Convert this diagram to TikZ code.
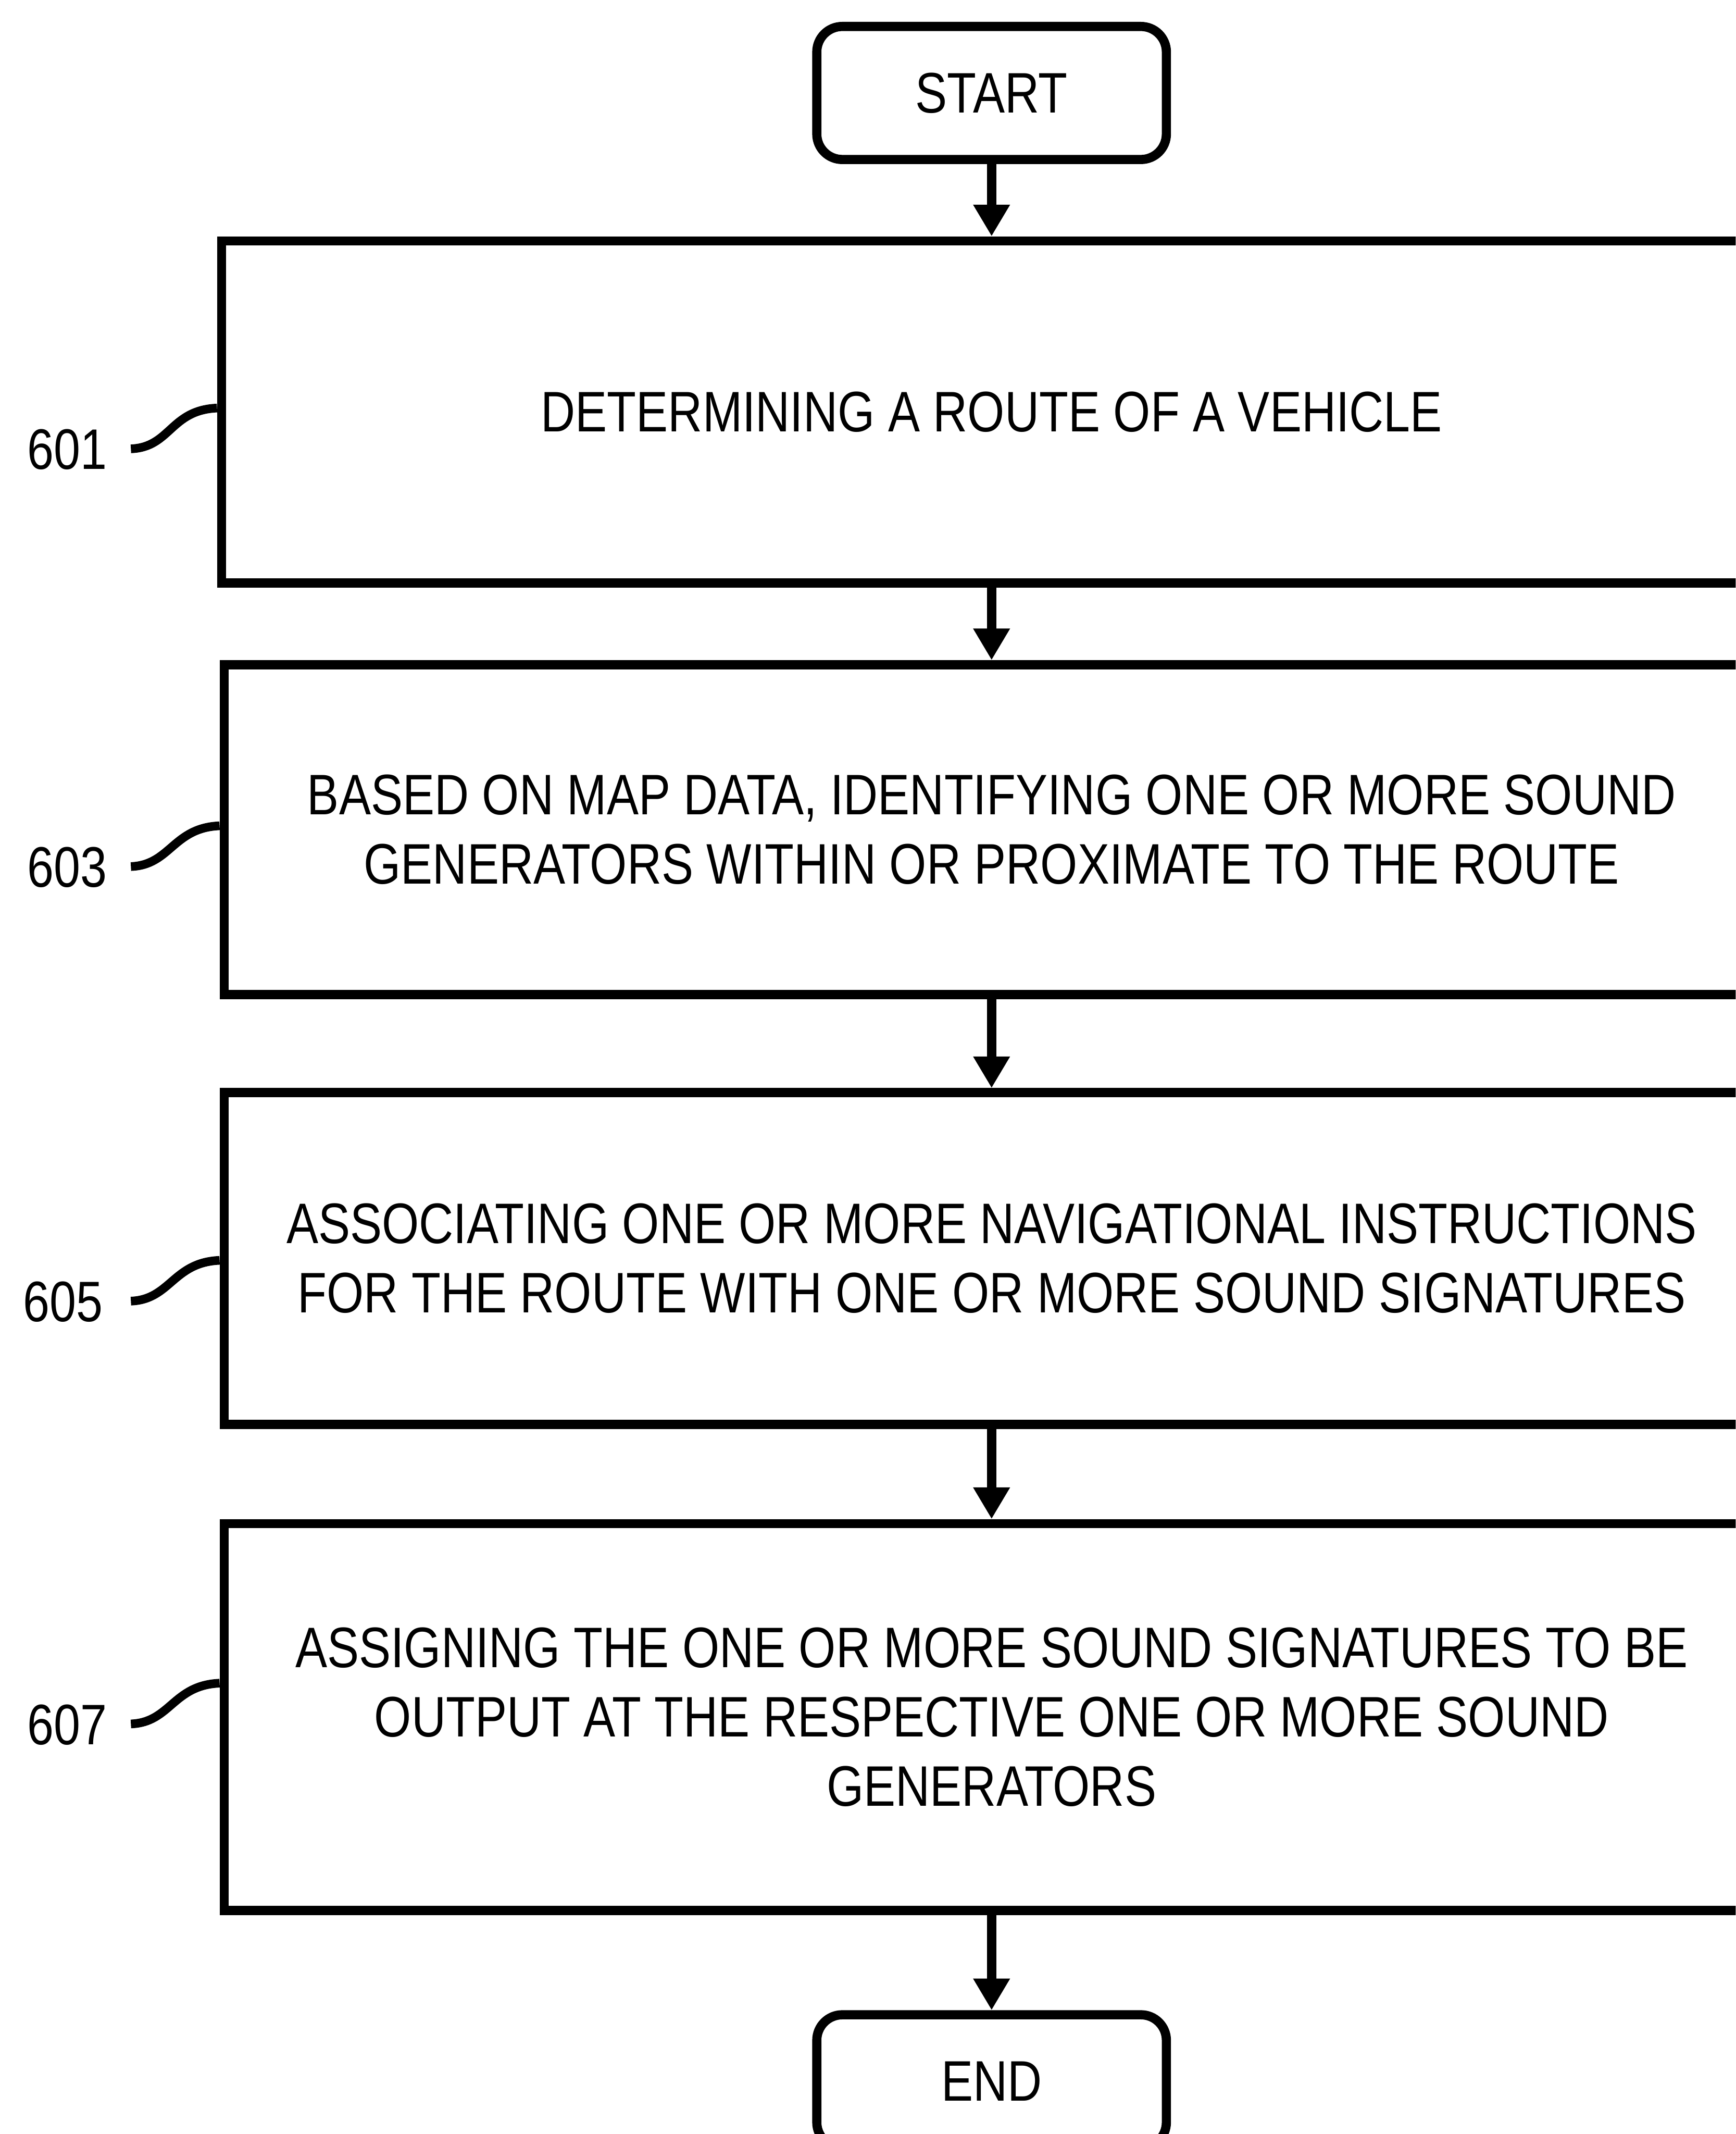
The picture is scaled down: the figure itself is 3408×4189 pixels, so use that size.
\documentclass[tikz,border=0pt]{standalone}
\usepackage{fontspec}
\setmainfont{Liberation Sans}[FakeStretch=0.835]
\usetikzlibrary{arrows.meta}

\begin{document}
\begin{tikzpicture}[x=0.01cm, y=-0.01cm,
  every node/.style={font=\fontsize{31.9pt}{38.7pt}\selectfont},
  stepbox/.style={draw, line width=0.18cm, rectangle, align=center, inner sep=0pt},
  termbox/.style={draw, line width=0.18cm, rectangle, rounded corners=0.5cm,
    minimum width=6.86cm, minimum height=2.61cm, inner sep=0pt},
  flow/.style={line width=0.18cm, -{Triangle[length=0.62cm, width=0.68cm]}},
  reflabel/.style={anchor=base west, inner sep=0pt},
  lead/.style={line width=0.17cm}]

  % page frame
  \useasboundingbox (0,0) rectangle (3408,4189);
  \clip (0,0) rectangle (3408,4189);

  % terminals
  \node[termbox] (start) at (1947,182.5) {START};
  \node[termbox] (finish) at (1947,4085.5) {END};

  % process steps
  \node[stepbox, minimum width=30.22cm, minimum height=6.71cm] (b601) at (1947,808.5)
    {DETERMINING A ROUTE OF A VEHICLE};
  \node[stepbox, minimum width=30.12cm, minimum height=6.47cm] (b603) at (1947,1628.5)
    {BASED ON MAP DATA, IDENTIFYING ONE OR MORE SOUND\\
     GENERATORS WITHIN OR PROXIMATE TO THE ROUTE};
  \node[stepbox, minimum width=30.12cm, minimum height=6.51cm] (b605) at (1947,2470.5)
    {ASSOCIATING ONE OR MORE NAVIGATIONAL INSTRUCTIONS\\
     FOR THE ROUTE WITH ONE OR MORE SOUND SIGNATURES};
  \node[stepbox, minimum width=30.12cm, minimum height=7.59cm] (b607) at (1947,3370.5)
    {ASSIGNING THE ONE OR MORE SOUND SIGNATURES TO BE\\
     OUTPUT AT THE RESPECTIVE ONE OR MORE SOUND\\
     GENERATORS};

  % flow arrows
  \draw[flow] (start) -- (b601);
  \draw[flow] (b601) -- (b603);
  \draw[flow] (b603) -- (b605);
  \draw[flow] (b605) -- (b607);
  \draw[flow] (b607) -- (finish);

  % reference numerals with lead lines
  \foreach \n/\lx/\y in {601/53/881, 603/53/1701, 605/45/2554, 607/53/3384} {
    \node[reflabel] (l\n) at (\lx,{\y+40}) {\n};
    \coordinate (s\n) at (257,\y);
    \coordinate (e\n) at (0,{\y-80});
    \draw[lead] (s\n) .. controls +(78,-3) and +(-92,4) .. (b\n.west |- e\n);
  }
\end{tikzpicture}
\end{document}
